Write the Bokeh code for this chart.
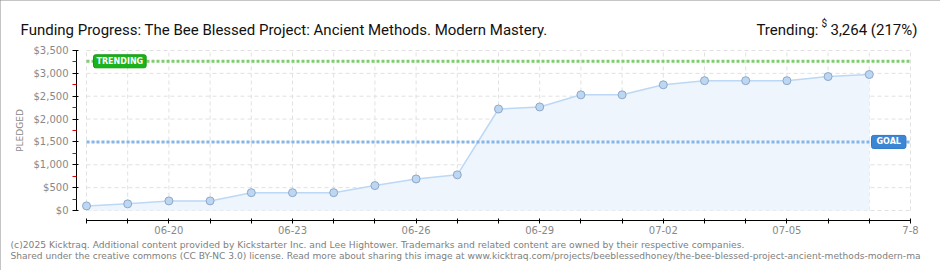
from bokeh.plotting import figure
from bokeh.models import FixedTicker, Label, Range1d
from bokeh.embed import file_html
from bokeh.resources import INLINE

# ---------------- data ----------------
dates = ["06-18", "06-19", "06-20", "06-21", "06-22", "06-23", "06-24", "06-25", "06-26", "06-27",
         "06-28", "06-29", "06-30", "07-01", "07-02", "07-03", "07-04", "07-05", "07-06", "07-07"]
pledged = [100, 145, 210, 210, 390, 390, 390, 545, 690, 780,
           2220, 2265, 2530, 2530, 2750, 2840, 2840, 2840, 2930, 2975]
axis_days = dates + ["07-08"]
x_tick_labels = {2: "06-20", 5: "06-23", 8: "06-26", 11: "06-29", 14: "07-02", 17: "07-05", 20: "7-8"}
y_ticks = [0, 500, 1000, 1500, 2000, 2500, 3000, 3500]
y_tick_labels = ["$0", "$500", "$1,000", "$1,500", "$2,000", "$2,500", "$3,000", "$3,500"]
y_minor_ticks = [250, 750, 1250, 1750, 2250, 2750, 3250]
goal = 1500
trending = 3264
title_text = "Funding Progress: The Bee Blessed Project: Ancient Methods. Modern Mastery."
trending_label = "Trending:"
trending_amount = "3,264 (217%)"
footer1 = ("(c)2025 Kicktraq. Additional content provided by Kickstarter Inc. and Lee Hightower. "
           "Trademarks and related content are owned by their respective companies.")
footer2 = ("Shared under the creative commons (CC BY-NC 3.0) license. Read more about sharing this image at "
           "www.kicktraq.com/projects/beeblessedhoney/the-bee-blessed-project-ancient-methods-modern-ma")

x = list(range(len(dates)))
all_x = list(range(len(axis_days)))
x_last = all_x[-1]
y_top = y_ticks[-1]

# ---------------- layout helpers (pixel -> data) ----------------
W, H = 940, 270
X0_PX, X1_PX = 86, 910      # day 0 / last axis day
Y0_PX, Y1_PX = 210, 50      # $0 / top tick
DX = (X1_PX - X0_PX) / x_last
DY = (Y0_PX - Y1_PX) / y_top


def sx(px):
    return (px - X0_PX) / DX


def sy(py):
    return (Y0_PX - py) / DY


p = figure(width=W, height=H, output_backend="svg", toolbar_location=None, title=None,
           x_range=Range1d(sx(0), sx(W)), y_range=Range1d(sy(H), sy(0)),
           min_border=0)
p.grid.visible = False
p.outline_line_color = None
p.background_fill_color = "white"
p.border_fill_color = "white"
p.styles = {"outline": "2px solid #8a8a8a", "outline-offset": "-2px"}

grid_color = "#e1e1e1"
# grid
p.segment(x0=all_x, y0=[0] * len(all_x), x1=all_x, y1=[y_top] * len(all_x),
          line_color=grid_color, line_width=1, line_dash="4 3")
p.segment(x0=[0] * len(y_ticks), y0=y_ticks, x1=[x_last] * len(y_ticks), y1=y_ticks,
          line_color=grid_color, line_width=1, line_dash="4 3")

# area + line
p.varea(x=x, y1=[0] * len(x), y2=pledged, fill_color="#eef5fd")
p.line(x=x, y=pledged, line_color="#bcd8f4", line_width=1.5)

# goal / trending lines
p.line(x=[0, x_last], y=[goal, goal], line_color="#86b5e6", line_width=3, line_dash="3 2")
p.line(x=[0, x_last], y=[trending, trending], line_color="#7fcd6f", line_width=3, line_dash="3 2")

p.scatter(x=x, y=pledged, size=8, fill_color="#bdd7f3", line_color="#8da8c8", line_width=1)

# axes
tick_font = "DejaVu Sans"
xa = p.xaxis[0]
xa.fixed_location = sy(220)
xa.ticker = FixedTicker(ticks=list(x_tick_labels.keys()),
                        minor_ticks=[i for i in all_x if i not in x_tick_labels])
xa.major_label_overrides = dict(x_tick_labels)
xa.bounds = (0, x_last)
xa.axis_line_color = "black"
xa.major_tick_line_color = "black"
xa.minor_tick_line_color = "black"
xa.major_tick_in = 2
xa.major_tick_out = 3
xa.minor_tick_in = 2
xa.minor_tick_out = 3
xa.major_label_standoff = 2
xa.major_label_text_font = tick_font
xa.major_label_text_font_size = "10px"
xa.major_label_text_color = "#888888"

ya = p.yaxis[0]
ya.fixed_location = sx(76)
ya.ticker = FixedTicker(ticks=y_ticks, minor_ticks=y_minor_ticks)
ya.major_label_overrides = {t: l for t, l in zip(y_ticks, y_tick_labels)}
ya.bounds = (0, y_top)
ya.axis_line_color = "black"
ya.major_tick_line_color = "black"
ya.major_tick_in = 2
ya.major_tick_out = 4
ya.minor_tick_line_color = "#e00000"
ya.minor_tick_in = 0
ya.minor_tick_out = 4
ya.major_label_standoff = 4
ya.major_label_text_font = tick_font
ya.major_label_text_font_size = "10px"
ya.major_label_text_color = "#888888"
ya.axis_label = "PLEDGED"
ya.axis_label_text_font = tick_font
ya.axis_label_text_font_size = "9px"
ya.axis_label_text_font_style = "normal"
ya.axis_label_text_color = "#888888"
ya.axis_label_standoff = 6

# badges
p.add_layout(Label(x=sx(93), y=trending, text="TRENDING", text_color="white",
                   text_font=tick_font, text_font_size="8px", text_font_style="bold",
                   text_align="left", text_baseline="middle",
                   background_fill_color="#1bb21b", border_line_color="#119a11",
                   padding=(3, 2), border_radius=2))
p.add_layout(Label(x=sx(871), y=goal, text="GOAL", text_color="white",
                   text_font=tick_font, text_font_size="8px", text_font_style="bold",
                   text_align="left", text_baseline="middle",
                   background_fill_color="#3b87d6", border_line_color="#2e78c4",
                   padding=(5, 2), border_radius=2))

# titles
title_font = "Roboto"
p.add_layout(Label(x=sx(20), y=sy(29), text=title_text, text_font=title_font,
                   text_font_size="15px", text_color="#111111", text_align="left",
                   text_baseline="alphabetic"))
p.add_layout(Label(x=sx(818), y=sy(29), text=trending_label, text_font=title_font,
                   text_font_size="15px", text_color="#111111", text_align="right",
                   text_baseline="alphabetic"))
p.add_layout(Label(x=sx(826.5), y=sy(23), text="$", text_font=title_font,
                   text_font_size="10px", text_color="#111111", text_align="right",
                   text_baseline="alphabetic"))
p.add_layout(Label(x=sx(917), y=sy(29), text=trending_amount, text_font=title_font,
                   text_font_size="15px", text_color="#111111", text_align="right",
                   text_baseline="alphabetic"))

# footer
p.add_layout(Label(x=sx(10), y=sy(243.5), text=footer1, text_font=tick_font,
                   text_font_size="9.2px", text_color="#808080", text_align="left",
                   text_baseline="middle"))
p.add_layout(Label(x=sx(10), y=sy(255), text=footer2, text_font=tick_font,
                   text_font_size="9.1px", text_color="#808080", text_align="left",
                   text_baseline="middle"))

open("out.html", "w").write(file_html(p, INLINE))
